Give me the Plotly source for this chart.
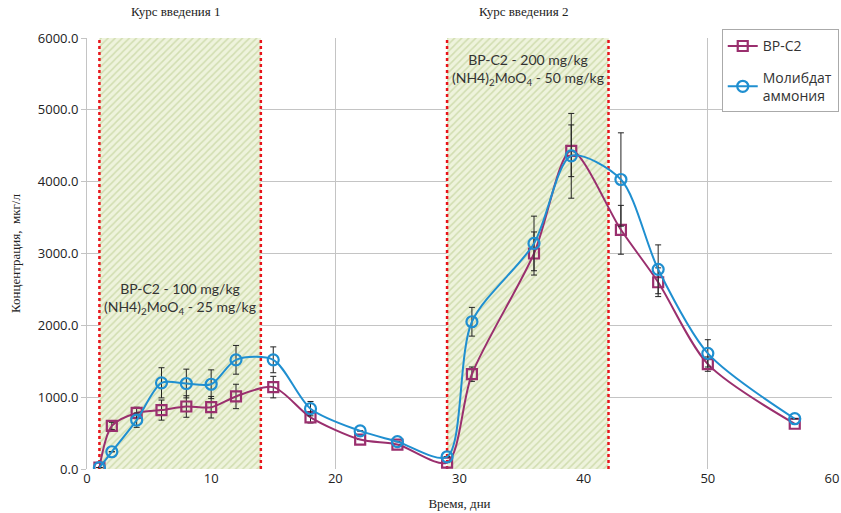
import plotly.graph_objects as go

days = [1, 2, 4, 6, 8, 10, 12, 15, 18, 22, 25, 29, 31, 36, 39, 43, 46, 50, 57]
bp_c2 = [20, 600, 780, 820, 870, 860, 1010, 1140, 720, 410, 340, 90, 1320, 3000, 4430, 3330, 2600, 1460, 630]
bp_c2_err = [0, 50, 80, 140, 150, 150, 170, 150, 80, 0, 0, 0, 100, 300, 360, 340, 200, 100, 0]
molyb = [20, 240, 680, 1200, 1190, 1180, 1520, 1520, 840, 530, 380, 170, 2050, 3140, 4360, 4030, 2780, 1610, 700]
molyb_err = [0, 0, 100, 210, 200, 200, 200, 180, 100, 0, 0, 0, 200, 380, 590, 650, 340, 190, 0]

courses = [(1, 14), (29, 42)]
course_labels = ["Курс введения 1", "Курс введения 2"]
dose_labels = [
    "BP-C2 - 100 mg/kg<br>(NH4)<sub>2</sub>MoO<sub>4</sub> - 25 mg/kg",
    "BP-C2 - 200 mg/kg<br>(NH4)<sub>2</sub>MoO<sub>4</sub> - 50 mg/kg",
]
dose_y = [2380, 5560]

purple = "#9a2f6e"
blue = "#1f8fd0"

fig = go.Figure()

for (a, b) in courses:
    fig.add_trace(go.Scatter(
        x=[a, b, b, a, a], y=[0, 0, 6000, 6000, 0],
        mode="lines", line=dict(width=0), fill="toself",
        fillcolor="#eef3dc",
        fillpattern=dict(shape="/", bgcolor="#eef3dc", fgcolor="#b3c884", size=5, solidity=0.3),
        showlegend=False, hoverinfo="skip"))

for (a, b) in courses:
    for xv in (a, b):
        fig.add_trace(go.Scatter(
            x=[xv, xv], y=[0, 6000], mode="lines",
            line=dict(color="#e8141b", width=2.5, dash="dot"),
            showlegend=False, hoverinfo="skip"))

fig.add_trace(go.Scatter(
    x=days, y=bp_c2, name="BP-C2", mode="lines+markers", legendgroup="g1",
    line=dict(color=purple, width=2, shape="spline", smoothing=0.8),
    marker=dict(symbol="square-open", size=10, color=purple, line=dict(width=2.2, color=purple)),
    error_y=dict(type="data", array=bp_c2_err, color="#222222", thickness=1, width=3)))

fig.add_trace(go.Scatter(
    x=days, y=molyb, name="Молибдат<br>аммония", mode="lines+markers", legendgroup="g2",
    line=dict(color=blue, width=2, shape="spline", smoothing=0.8),
    marker=dict(symbol="circle-open", size=11, color=blue, line=dict(width=2.2, color=blue)),
    error_y=dict(type="data", array=molyb_err, color="#222222", thickness=1, width=3)))

for (a, b), lab in zip(courses, course_labels):
    fig.add_annotation(x=(a + b) / 2 - 0.3, y=1.04, xref="x", yref="paper", text=lab,
                       showarrow=False, yanchor="bottom",
                       font=dict(family="Liberation Serif", size=13, color="#222"))

for (a, b), lab, yy in zip(courses, dose_labels, dose_y):
    fig.add_annotation(x=(a + b) / 2, y=yy, text=lab, showarrow=False,
                       font=dict(family="Lato", size=14, color="#333"), align="center")

fig.update_layout(
    width=841, height=513,
    margin=dict(l=87, r=9, t=38, b=44, autoexpand=False),
    plot_bgcolor="white", paper_bgcolor="white",
    font=dict(family="Open Sans", size=13, color="#222"),
    legend=dict(x=0.852, y=1.02, xanchor="left", yanchor="top",
                bgcolor="white", bordercolor="#aaaaaa", borderwidth=1,
                font=dict(family="Open Sans", size=14, color="#333"),
                itemwidth=30, tracegroupgap=10),
    xaxis=dict(range=[0, 60], dtick=10, showgrid=True, gridcolor="#c4c4c4", gridwidth=1.3,
               zeroline=False, showline=False, ticks="", automargin=False,
               title=dict(text="Время, дни", font=dict(family="Liberation Serif", size=13), standoff=12)),
    yaxis=dict(range=[0, 6000], dtick=1000, tickformat=".1f", showgrid=True, gridcolor="#c4c4c4",
               gridwidth=1.3, zeroline=False, showline=True, linecolor="#c4c4c4",
               ticks="outside", ticklen=5, tickcolor="#c4c4c4", automargin=False,
               title=dict(text="Концентрация,  мкг/л", font=dict(family="Liberation Serif", size=13), standoff=14)),
)

fig.write_html("out.html")
